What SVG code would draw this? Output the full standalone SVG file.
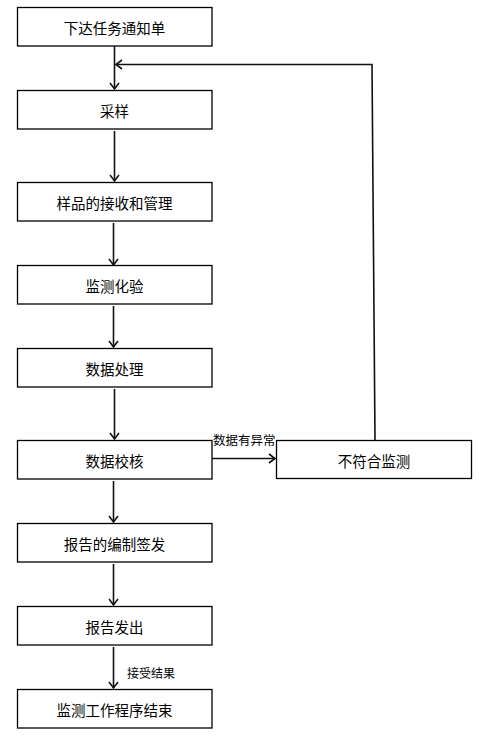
<svg xmlns="http://www.w3.org/2000/svg" width="481" height="744" viewBox="0 0 481 744">
<style>
.box{fill:#fff;stroke:#000;stroke-width:1.3}
.t{font-family:"Noto Sans CJK SC","Liberation Sans",sans-serif;font-size:14.5px;fill:#000;text-anchor:middle;dominant-baseline:central}
.lbl{font-family:"Noto Sans CJK SC","Liberation Sans",sans-serif;font-size:12.5px;fill:#000;dominant-baseline:central}
.c{fill:none;stroke:#111;stroke-width:1.6}
</style>
<defs>
<marker id="ah" markerWidth="12" markerHeight="12" refX="9" refY="6" orient="auto" markerUnits="userSpaceOnUse">
<path d="M3,1.5 L9,6 L3,10.5" fill="none" stroke="#111" stroke-width="1.6"/>
</marker>
</defs>
<rect width="481" height="744" fill="#fff"/>
<g id="connectors">
<line class="c" x1="114.5" y1="46" x2="114.5" y2="89" marker-end="url(#ah)"/>
<line class="c" x1="114.5" y1="131" x2="114.5" y2="181" marker-end="url(#ah)"/>
<line class="c" x1="113.5" y1="223" x2="113.5" y2="265" marker-end="url(#ah)"/>
<line class="c" x1="113.5" y1="306" x2="113.5" y2="347" marker-end="url(#ah)"/>
<line class="c" x1="114.5" y1="389" x2="114.5" y2="439" marker-end="url(#ah)"/>
<line class="c" x1="113.5" y1="481" x2="113.5" y2="522" marker-end="url(#ah)"/>
<line class="c" x1="113.5" y1="564" x2="113.5" y2="605" marker-end="url(#ah)"/>
<line class="c" x1="113.5" y1="647" x2="113.5" y2="688" marker-end="url(#ah)"/>
<line class="c" x1="212" y1="458.5" x2="275" y2="458.5" marker-end="url(#ah)"/>
<polyline class="c" points="375,440 372,64.5 116,64.5" marker-end="url(#ah)"/>
<text class="lbl" x="213" y="439">数据有异常</text>
<text class="lbl" x="127" y="672" style="font-size:12px">接受结果</text>
</g>
<g id="n1"><rect class="box" x="17.5" y="7.5" width="194.5" height="38.5"/><text class="t" x="114.5" y="27">下达任务通知单</text></g>
<g id="n2"><rect class="box" x="17.5" y="90.5" width="194.5" height="38.5"/><text class="t" x="114.5" y="110">采样</text></g>
<g id="n3"><rect class="box" x="17.5" y="182.5" width="194.5" height="38.5"/><text class="t" x="114.5" y="202">样品的接收和管理</text></g>
<g id="n4"><rect class="box" x="17.5" y="265.5" width="194.5" height="38.5"/><text class="t" x="114.5" y="285">监测化验</text></g>
<g id="n5"><rect class="box" x="17.5" y="348.5" width="194.5" height="38.5"/><text class="t" x="114.5" y="368">数据处理</text></g>
<g id="n6"><rect class="box" x="17.5" y="440.5" width="194.5" height="38.5"/><text class="t" x="114.5" y="460">数据校核</text></g>
<g id="n7"><rect class="box" x="17.5" y="523.5" width="194.5" height="38.5"/><text class="t" x="114.5" y="543">报告的编制签发</text></g>
<g id="n8"><rect class="box" x="17.5" y="606.5" width="194.5" height="38.5"/><text class="t" x="114.5" y="626">报告发出</text></g>
<g id="n9"><rect class="box" x="17.5" y="689.5" width="194.5" height="38.5"/><text class="t" x="114.5" y="709">监测工作程序结束</text></g>
<g id="n10"><rect class="box" x="276.5" y="440.5" width="195" height="38"/><text class="t" x="374" y="460">不符合监测</text></g>
</svg>
